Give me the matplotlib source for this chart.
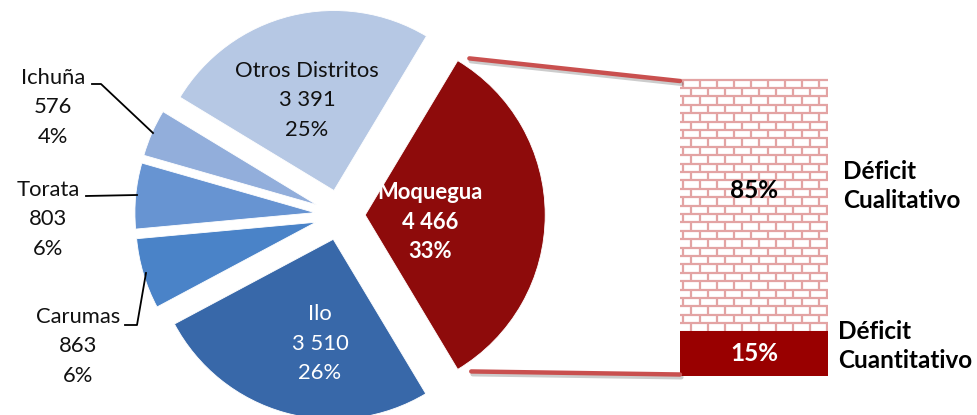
import numpy as np
import matplotlib
matplotlib.use("Agg")
import matplotlib.pyplot as plt
from matplotlib.patches import ConnectionPatch
from matplotlib.collections import LineCollection
import matplotlib.patheffects as pe

# ---- data ----
districts = ["Moquegua", "Otros Distritos", "Ichuña", "Torata", "Carumas", "Ilo"]
counts = [4466, 3391, 576, 803, 863, 3510]
count_labels = ["4 466", "3 391", "576", "803", "863", "3 510"]
pct_labels = ["33%", "25%", "4%", "6%", "6%", "26%"]
deficit_types = ["Déficit\nCuantitativo", "Déficit\nCualitativo"]
deficit_pct = [15, 85]
deficit_pct_labels = ["15%", "85%"]

W, H = 977, 415
fig = plt.figure(figsize=(W / 100, H / 100), dpi=100)
plt.rcParams['font.family'] = ['Lato', 'DejaVu Sans']

# pie axes: 1 unit = R px, pie centre at (CX, CY) pixels (from top)
R, CX, CY = 180.0, 340.0, 215.0
ax = fig.add_axes([0, 0, 1, 1])
colors = ["#8e0b0b", "#b6c8e4", "#92aedb", "#6794d2", "#4a83c8", "#3868a9"]
total = sum(counts)
start = -0.5 * counts[0] / total * 360.0
wedges, _ = ax.pie(counts, colors=colors, startangle=start, counterclock=True,
                   explode=[0.14] * 6, radius=1.0,
                   wedgeprops=dict(edgecolor="white", linewidth=0.6))
ax.set_xlim(-CX / R, (W - CX) / R)
ax.set_ylim(-(H - CY) / R, CY / R)
ax.set_aspect('auto')
ax.axis('off')

def P(px, py):
    return ((px - CX) / R, (CY - py) / R)

fs = 15.8
fsb = 17.5
lh = 29.5
# labels inside slices
inside = {
    "Otros Distritos": (307, 71, "#111111", "normal"),
    "Moquegua": (430, 193, "white", "bold"),
    "Ilo": (320, 314, "white", "normal"),
}
outside = {
    "Ichuña": (53, 78),
    "Torata": (48, 190),
    "Carumas": (78, 317),
}
for name, cnt, pct in zip(districts, count_labels, pct_labels):
    if name in inside:
        px, py, c, w = inside[name]
    else:
        px, py = outside[name]
        c, w = "#111111", "normal"
    for k, s in enumerate([name, cnt, pct]):
        x, y = P(px, py + k * lh)
        ax.text(x, y, s, ha="center", va="center", fontsize=fs, color=c,
                fontweight=w)

# leader lines
leaders = [
    [(92, 84), (101, 84), (153, 133)],
    [(86, 196), (137, 195)],
    [(125, 325), (137, 325), (146, 273)],
]
for pts in leaders:
    xy = np.array([P(*p) for p in pts])
    ax.plot(xy[:, 0], xy[:, 1], color="black", lw=1.3)

# ---- bar of pie ----
bx0, bx1, by_top, by_bot = 680, 828, 75, 376
bax = fig.add_axes([bx0 / W, (H - by_bot) / H, (bx1 - bx0) / W, (by_bot - by_top) / H])
bottoms = [0, deficit_pct[0]]
bar_colors = ["#990000", "white"]
bars = bax.bar([0, 0], deficit_pct, bottom=bottoms, width=1.0, color=bar_colors,
               edgecolor="none")
bax.set_xlim(-0.5, 0.5)
bax.set_ylim(0, 100)
bax.axis('off')

# brick pattern inside the qualitative bar
bw_px, bh_px = 148.0, by_bot - by_top
brick_w = 17.0 / bw_px          # data units in x
row_h = 8.4 / bh_px * 100.0     # data units in y
segs = []
y = 100.0 - 1.5
row = 0
while y > bottoms[1] - row_h:
    segs.append([(-0.5, y), (0.5, y)])
    off = (row % 2) * brick_w / 2
    x = -0.5 + off + 0.02
    while x < 0.5:
        segs.append([(x, y), (x, y - row_h)])
        x += brick_w
    y -= row_h
    row += 1
lc = LineCollection(segs, colors="#e3a3a3", linewidths=1.6)
bax.add_collection(lc)
lc.set_clip_path(bars[1])

bax.text(0, bottoms[1] + deficit_pct[1] * 0.55, deficit_pct_labels[1], ha="center",
         va="center", fontsize=fsb, fontweight="bold", color="black")
bax.text(0, deficit_pct[0] / 2, deficit_pct_labels[0], ha="center", va="center",
         fontsize=fsb, fontweight="bold", color="white")

# side labels
fig.text(843 / W, 1 - 186 / H, deficit_types[1], ha="left", va="center",
         fontsize=fsb, fontweight="bold", linespacing=1.3)
fig.text(838 / W, 1 - 346 / H, deficit_types[0], ha="left", va="center",
         fontsize=fsb, fontweight="bold", linespacing=1.3)

# connector lines from Moquegua wedge to bar
w0 = wedges[0]
cx0, cy0 = w0.center
for ang, ybar, dr in [(w0.theta2 - 2.7, 98, 1.045), (w0.theta1 + 3.2, 0.5, 1.05)]:
    a = np.deg2rad(ang)
    p = (cx0 + dr * np.cos(a), cy0 + dr * np.sin(a))
    con = ConnectionPatch(xyA=p, coordsA=ax.transData, xyB=(-0.5, ybar),
                          coordsB=bax.transData, color="#c9504f", lw=3.2,
                          path_effects=[pe.SimpleLineShadow(offset=(1, -2), alpha=0.2),
                                        pe.Normal()])
    fig.add_artist(con)

fig.savefig("out.png", dpi=100)
